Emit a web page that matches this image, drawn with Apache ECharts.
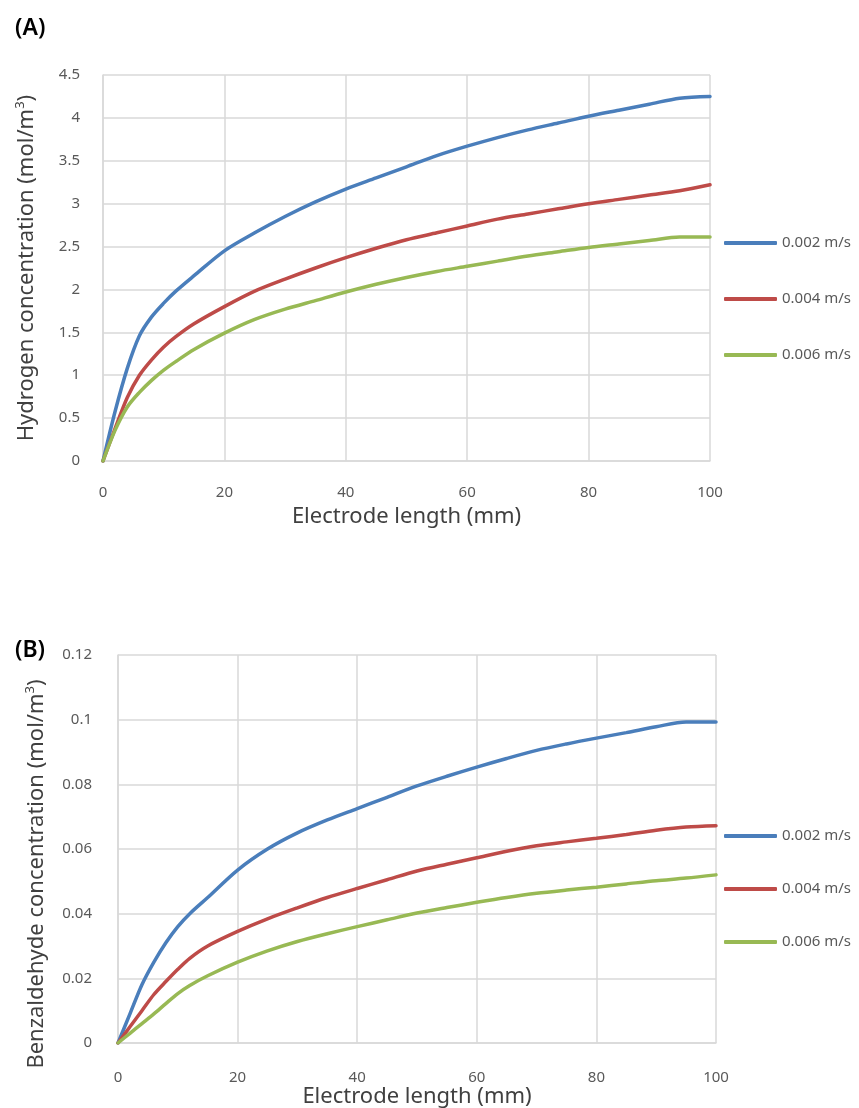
<!DOCTYPE html>
<html>
<head>
    <meta charset="utf-8">
    <title>ECharts</title>
    <script src="https://cdn.jsdelivr.net/npm/echarts@6/dist/echarts.min.js"></script>
</head>
<body style="margin:0;background:#fff;">
    <div id="main" style="width: 859px;height:1108px;"></div>
    <script type="text/javascript">
        // electrode length positions (mm)
        var lengthMm = [0, 2, 4, 6, 8, 10, 12, 15, 20, 25, 30, 35, 40, 45, 50, 55, 60, 65, 70, 75, 80, 85, 90, 95, 100];
        var seriesNames = ['0.002 m/s', '0.004 m/s', '0.006 m/s'];

        // (A) hydrogen concentration (mol/m3)
        var h2Slow = [0, 0.58, 1.08, 1.46, 1.68, 1.84, 1.98, 2.16, 2.45, 2.66, 2.85, 3.02, 3.17, 3.30, 3.43, 3.56, 3.67, 3.77, 3.86, 3.94, 4.02, 4.09, 4.16, 4.23, 4.25];
        var h2Mid = [0, 0.38, 0.74, 1.0, 1.18, 1.33, 1.45, 1.6, 1.8, 1.98, 2.12, 2.25, 2.37, 2.48, 2.58, 2.66, 2.74, 2.82, 2.88, 2.94, 3.0, 3.05, 3.10, 3.15, 3.22];
        var h2Fast = [0, 0.36, 0.63, 0.8, 0.94, 1.06, 1.16, 1.3, 1.49, 1.65, 1.77, 1.87, 1.97, 2.06, 2.14, 2.21, 2.27, 2.33, 2.39, 2.44, 2.49, 2.53, 2.57, 2.61, 2.61];

        // (B) benzaldehyde concentration (mol/m3)
        var bzSlow = [0, 0.009, 0.018, 0.025, 0.031, 0.036, 0.040, 0.045, 0.0535, 0.0600, 0.0650, 0.0690, 0.0725, 0.0760, 0.0795, 0.0825, 0.0853, 0.0880, 0.0905, 0.0925, 0.0943, 0.0960, 0.0978, 0.0993, 0.0993];
        var bzMid = [0, 0.005, 0.010, 0.015, 0.019, 0.0228, 0.0262, 0.0300, 0.0345, 0.0384, 0.0418, 0.0450, 0.0478, 0.0505, 0.0532, 0.0553, 0.0573, 0.0593, 0.0610, 0.0622, 0.0633, 0.0645, 0.0658, 0.0668, 0.0672];
        var bzFast = [0, 0.003, 0.006, 0.009, 0.0122, 0.0153, 0.0178, 0.0208, 0.0250, 0.0285, 0.0314, 0.0338, 0.0360, 0.0381, 0.0402, 0.0419, 0.0435, 0.0450, 0.0463, 0.0473, 0.0482, 0.0492, 0.0502, 0.0510, 0.0520];

        var colors = ['#4a7ebb', '#be4b48', '#98b954'];
        var fontName = 'Noto Sans';
        var gridColor = '#d9d9d9';

        function pairs(ys) {
            return lengthMm.map(function (x, i) { return [x, ys[i]]; });
        }

        function lineSeries(name, ys, idx, color) {
            return {
                name: name,
                type: 'line',
                xAxisIndex: idx,
                yAxisIndex: idx,
                data: pairs(ys),
                smooth: 0.3,
                symbol: 'none',
                color: color,
                lineStyle: { width: 3.5, color: color, cap: 'round' }
            };
        }

        function xAxisCfg(gridIndex, margin, nameGap) {
            return {
                type: 'value', gridIndex: gridIndex, min: 0, max: 100, interval: 20,
                name: 'Electrode length (mm)', nameLocation: 'middle', nameGap: nameGap,
                nameTextStyle: { fontFamily: fontName, fontSize: 22, color: '#404040' },
                axisLine: { show: true, lineStyle: { color: gridColor, width: 1.5 } },
                axisTick: { show: false },
                axisLabel: { margin: margin, fontFamily: fontName, fontSize: 15, color: '#595959' },
                splitLine: { show: true, lineStyle: { color: gridColor, width: 1.5 } }
            };
        }

        function yAxisCfg(gridIndex, label, max, interval, margin, nameGap, shift) {
            return {
                type: 'value', gridIndex: gridIndex, min: 0, max: max, interval: interval,
                name: '{a|' + label + ' (mol/m}{s|3}{a|)}', nameLocation: 'middle', nameGap: nameGap,
                nameRotate: 90,
                nameTextStyle: {
                    padding: [0, shift, 0, 0],
                    rich: {
                        a: { fontFamily: fontName, fontSize: 22, color: '#404040', lineHeight: 26 },
                        s: { fontFamily: fontName, fontSize: 13, color: '#404040', lineHeight: 14, verticalAlign: 'top' }
                    }
                },
                axisLine: { show: true, lineStyle: { color: gridColor, width: 1.5 } },
                axisTick: { show: false },
                axisLabel: { margin: margin, fontFamily: fontName, fontSize: 15, color: '#595959' },
                splitLine: { show: true, lineStyle: { color: gridColor, width: 1.5 } }
            };
        }

        function legendCfg(top, gap) {
            return {
                data: seriesNames, orient: 'vertical', left: 719, top: top,
                icon: 'roundRect', itemWidth: 53, itemHeight: 4, itemGap: gap,
                selectedMode: false,
                textStyle: { fontFamily: fontName, fontSize: 15, color: '#595959', lineHeight: 18 }
            };
        }

        var myChart = echarts.init(document.getElementById('main'));
        var option = {
            animation: false,
            backgroundColor: '#fff',
            title: [
                { text: '(A)', left: 10, top: 12, textStyle: { fontFamily: fontName, fontSize: 23, fontWeight: 600, color: '#000' } },
                { text: '(B)', left: 10, top: 634, textStyle: { fontFamily: fontName, fontSize: 23, fontWeight: 600, color: '#000' } }
            ],
            legend: [legendCfg(229, 38), legendCfg(822, 35)],
            grid: [
                { left: 103, top: 75, width: 607, height: 386, outerBoundsMode: 'none', containLabel: false },
                { left: 118, top: 655, width: 598, height: 388, outerBoundsMode: 'none', containLabel: false }
            ],
            xAxis: [xAxisCfg(0, 24, 45), xAxisCfg(1, 27, 42)],
            yAxis: [
                yAxisCfg(0, 'Hydrogen concentration', 4.5, 0.5, 23, 63, 0),
                yAxisCfg(1, 'Benzaldehyde concentration', 0.12, 0.02, 26, 68, 50)
            ],
            series: [
                lineSeries(seriesNames[0], h2Slow, 0, colors[0]),
                lineSeries(seriesNames[1], h2Mid, 0, colors[1]),
                lineSeries(seriesNames[2], h2Fast, 0, colors[2]),
                lineSeries(seriesNames[0], bzSlow, 1, colors[0]),
                lineSeries(seriesNames[1], bzMid, 1, colors[1]),
                lineSeries(seriesNames[2], bzFast, 1, colors[2])
            ]
        };
        myChart.setOption(option);
    </script>
</body>
</html>
